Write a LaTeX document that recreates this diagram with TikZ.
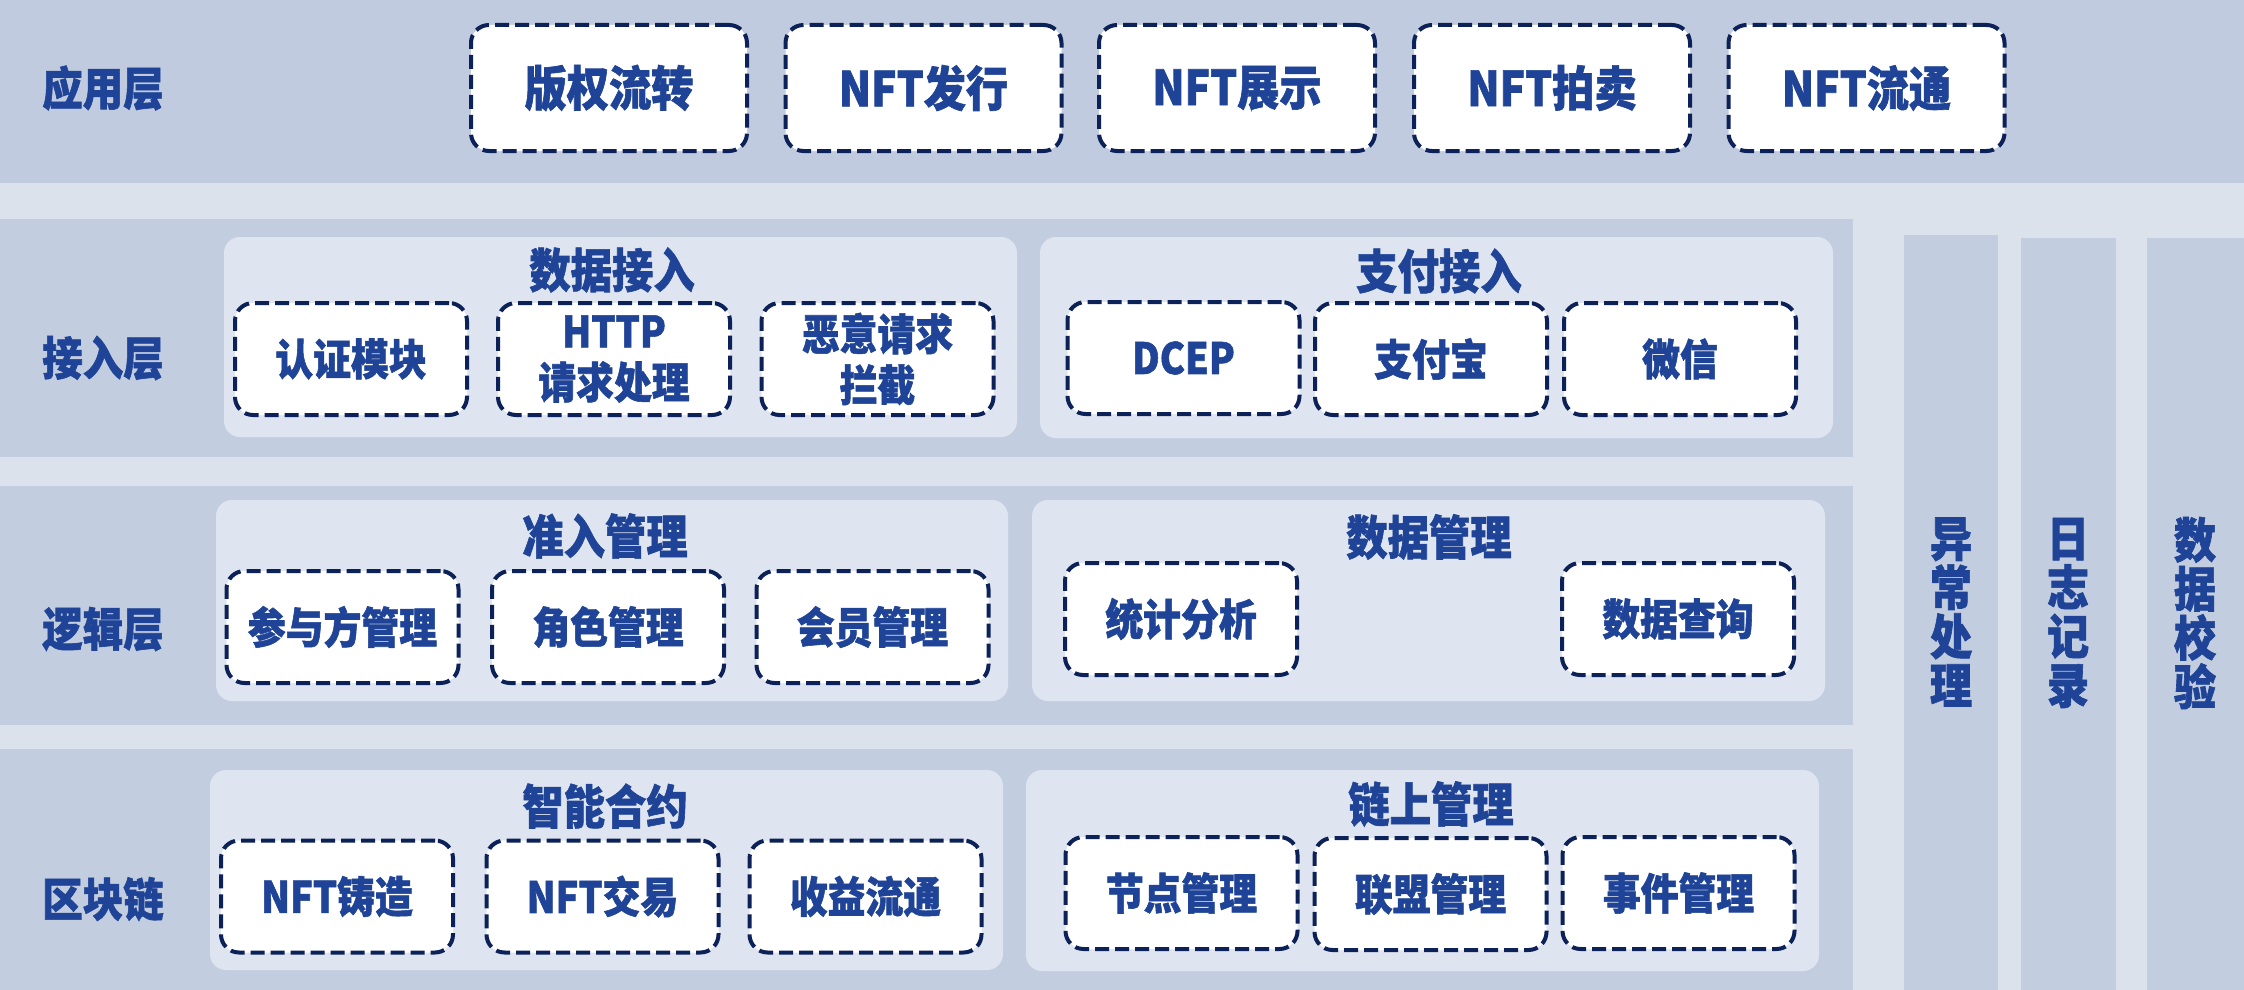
\documentclass[tikz,border=0pt]{standalone}
\usepackage{fontspec}
\setmainfont{Noto Sans CJK SC}[FakeStretch=0.88, BoldFeatures={FakeBold=1.3}]
\definecolor{bgc}{HTML}{DCE2EC}
\definecolor{bandc}{HTML}{C3CDE0}
\definecolor{topc}{HTML}{C1CBDF}
\definecolor{panelc}{HTML}{DFE5F0}
\definecolor{txtc}{HTML}{1F4497}
\definecolor{dashc}{HTML}{0B2158}
\tikzset{
  boxsty/.style={draw=dashc, fill=white, line width=4pt, dash pattern=on 14pt off 6pt,
    rounded corners=18pt, minimum width=232pt, minimum height=112pt, align=center,
    text=txtc, font=\bfseries\fontsize{43pt}{51pt}\selectfont, inner sep=0pt},
  topbox/.style={boxsty, minimum width=276pt, minimum height=126pt,
    font=\bfseries\fontsize{48pt}{52pt}\selectfont},
  paneltitle/.style={text=txtc, font=\bfseries\fontsize{47pt}{50pt}\selectfont, inner sep=0pt},
  layerlabel/.style={text=txtc, font=\bfseries\fontsize{46pt}{50pt}\selectfont, inner sep=0pt},
  coltext/.style={text=txtc, font=\bfseries\fontsize{48pt}{49pt}\selectfont, align=center, inner sep=0pt},
  bandsty/.style={fill=bandc},
  panelsty/.style={fill=panelc, rounded corners=16pt},
}
\begin{document}
\begin{tikzpicture}[x=1pt,y=-1pt]
\useasboundingbox (0,0) rectangle (2244,990);
\fill[bgc] (0,0) rectangle (2244,990);
% bands
\fill[topc] (0,0) rectangle (2244,183);
\fill[bandsty] (0,219) rectangle (1853,457);
\fill[bandsty] (0,486) rectangle (1853,725);
\fill[bandsty] (0,749) rectangle (1853,990);
% columns
\fill[bandsty] (1904,235) rectangle (1998,990);
\fill[bandsty] (2021,238) rectangle (2116,990);
\fill[bandsty] (2147,238) rectangle (2244,990);
% panels
\fill[panelsty] (224,237) rectangle (1017,437);
\fill[panelsty] (1040,237) rectangle (1833,438);
\fill[panelsty] (216,500) rectangle (1008,701);
\fill[panelsty] (1032,500) rectangle (1825,701);
\fill[panelsty] (210,770) rectangle (1003,970);
\fill[panelsty] (1026,770) rectangle (1819,971);
% layer labels
\node[layerlabel] (l1) at (103,88) {应用层};
\node[layerlabel] (l2) at (103,358) {接入层};
\node[layerlabel] (l3) at (103,629) {逻辑层};
\node[layerlabel] (l4) at (103,899) {区块链};
% top row
\node[topbox] (a1) at (609,88) {版权流转};
\node[topbox] (a2) at (923.5,88) {NFT发行};
\node[topbox] (a3) at (1237,88) {NFT展示};
\node[topbox] (a4) at (1552,88) {NFT拍卖};
\node[topbox] (a5) at (1866.5,88) {NFT流通};
% access layer
\node[paneltitle] (t1) at (612,270) {数据接入};
\node[paneltitle] (t2) at (1439,271) {支付接入};
\node[boxsty] (b1) at (351,359) {认证模块};
\node[boxsty] (b2) at (614,359) {HTTP\\请求处理};
\node[boxsty] (b3) at (877.5,359) {恶意请求\\拦截};
\node[boxsty] (b4) at (1183.5,358) {DCEP};
\node[boxsty] (b5) at (1431,359) {支付宝};
\node[boxsty] (b6) at (1680,359) {微信};
% logic layer
\node[paneltitle] (t3) at (605,536) {准入管理};
\node[paneltitle] (t4) at (1429,537) {数据管理};
\node[boxsty] (c1) at (342.5,627) {参与方管理};
\node[boxsty] (c2) at (608,627) {角色管理};
\node[boxsty] (c3) at (872.5,627) {会员管理};
\node[boxsty] (c4) at (1181,619) {统计分析};
\node[boxsty] (c5) at (1678,619) {数据查询};
% blockchain layer
\node[paneltitle] (t5) at (605,806) {智能合约};
\node[paneltitle] (t6) at (1431,804) {链上管理};
\node[boxsty] (d1) at (337,896.5) {NFT铸造};
\node[boxsty] (d2) at (602.5,896.5) {NFT交易};
\node[boxsty] (d3) at (865.5,896.5) {收益流通};
\node[boxsty] (d4) at (1181.5,893) {节点管理};
\node[boxsty] (d5) at (1430.5,894) {联盟管理};
\node[boxsty] (d6) at (1678.5,893) {事件管理};
% columns text
\node[coltext] (e1) at (1951,612) {异\\常\\处\\理};
\node[coltext] (e2) at (2068,613) {日\\志\\记\\录};
\node[coltext] (e3) at (2195,613) {数\\据\\校\\验};
\end{tikzpicture}
\end{document}
